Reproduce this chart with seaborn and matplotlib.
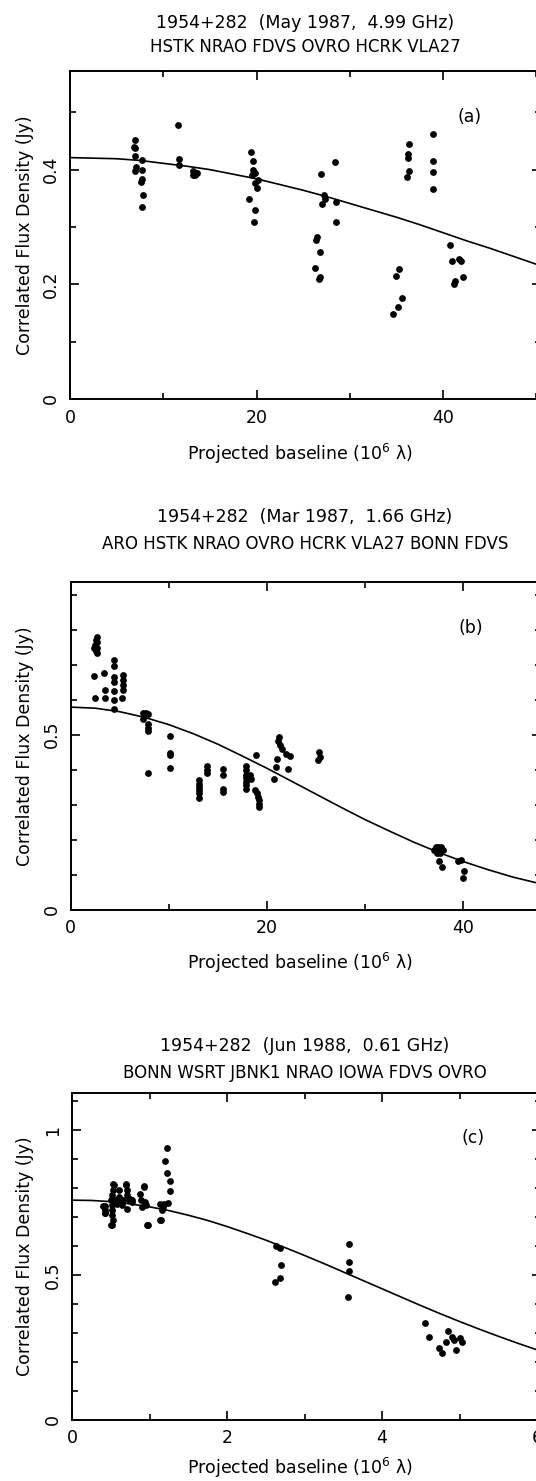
import numpy as np
import pandas as pd
import matplotlib
matplotlib.use("Agg")
import matplotlib.pyplot as plt
import seaborn as sns
from matplotlib.ticker import MultipleLocator, FuncFormatter

# ---------------- Panel (a): 4.99 GHz ----------------
a_x = [6.97, 6.87, 6.94, 7.01, 7.08, 7.01, 7.76, 7.69, 7.73, 7.65, 7.80, 7.73,
       11.62, 11.70, 11.70, 13.23, 13.41, 13.17, 13.60,
       19.39, 19.60, 19.60, 19.85, 19.50, 20.20, 19.85, 20.03, 19.24, 19.85, 19.71,
       26.93, 28.40, 27.18, 27.29, 27.07, 28.54, 28.51, 26.53, 26.39, 26.82, 26.29, 26.82, 26.72,
       36.34, 36.23, 36.19, 36.37, 36.13, 38.92, 38.92, 38.92, 38.92,
       35.27, 34.90, 35.59, 35.12, 34.62,
       40.70, 40.95, 41.66, 41.95, 42.17, 41.31, 41.13]
a_y = [0.451, 0.440, 0.438, 0.423, 0.405, 0.398, 0.417, 0.400, 0.384, 0.379, 0.355, 0.335,
       0.478, 0.419, 0.408, 0.397, 0.391, 0.391, 0.394,
       0.430, 0.415, 0.400, 0.394, 0.391, 0.382, 0.376, 0.368, 0.349, 0.330, 0.309,
       0.392, 0.414, 0.355, 0.349, 0.340, 0.343, 0.309, 0.282, 0.277, 0.256, 0.229, 0.212, 0.209,
       0.445, 0.427, 0.420, 0.398, 0.388, 0.462, 0.415, 0.396, 0.366,
       0.226, 0.215, 0.176, 0.161, 0.148,
       0.269, 0.240, 0.244, 0.241, 0.212, 0.205, 0.200]
a_fit_x = [0, 2.5, 5, 7.5, 10, 12.5, 15, 17.5, 20, 22.5, 25, 27.5, 30, 32.5, 35,
           37.5, 40, 42.5, 45, 47.5, 50, 51]
a_fit_y = [0.421, 0.420, 0.419, 0.416, 0.411, 0.406, 0.400, 0.392, 0.384, 0.374,
           0.364, 0.353, 0.341, 0.329, 0.317, 0.304, 0.290, 0.276, 0.263, 0.249,
           0.235, 0.230]

# ---------------- Panel (b): 1.66 GHz ----------------
b_x = [2.67, 2.60, 2.67, 2.49, 2.42, 2.73, 2.60, 2.73, 2.42, 2.46,
       3.44, 3.51, 3.48,
       4.46, 4.46, 4.46, 4.46, 4.43, 4.43, 4.43,
       5.32, 5.32, 5.32, 5.32, 5.28,
       7.41, 7.69, 7.92, 7.35, 7.86, 7.92, 7.92, 7.92,
       10.10, 10.16, 10.16, 10.16,
       13.05, 13.05, 13.05, 13.05, 13.05, 13.05,
       13.90, 13.90, 13.90,
       15.50, 15.50, 15.50, 15.50,
       17.84, 17.84, 17.84, 17.84, 17.84, 17.84, 17.84, 18.28, 18.35,
       18.86, 18.79, 18.96, 19.13, 19.23, 19.23, 19.23,
       20.76, 20.93, 21.00, 21.23, 21.17, 21.33, 21.50, 21.95, 22.35, 22.15,
       25.34, 25.41, 25.24,
       37.02, 37.22, 37.45, 37.70, 37.90, 37.63, 37.29, 37.45, 37.53, 37.80,
       39.49, 39.77, 40.07, 39.94]
b_y = [0.781, 0.772, 0.765, 0.756, 0.749, 0.749, 0.741, 0.734, 0.668, 0.606,
       0.677, 0.627, 0.606,
       0.713, 0.697, 0.665, 0.651, 0.624, 0.599, 0.573,
       0.670, 0.656, 0.641, 0.627, 0.606,
       0.561, 0.561, 0.559, 0.546, 0.532, 0.518, 0.511, 0.391,
       0.496, 0.448, 0.443, 0.406,
       0.370, 0.360, 0.351, 0.341, 0.332, 0.319,
       0.410, 0.399, 0.391,
       0.403, 0.384, 0.346, 0.336,
       0.411, 0.399, 0.384, 0.375, 0.365, 0.356, 0.346, 0.384, 0.372,
       0.443, 0.341, 0.332, 0.322, 0.313, 0.303, 0.292,
       0.373, 0.408, 0.432, 0.494, 0.481, 0.470, 0.458, 0.444, 0.439, 0.401,
       0.451, 0.437, 0.429,
       0.170, 0.178, 0.179, 0.178, 0.170, 0.162, 0.162, 0.170, 0.139, 0.121,
       0.139, 0.143, 0.110, 0.091]
b_fit_x = [0, 2.5, 5, 7.5, 10, 12.5, 15, 17.5, 20, 22.5, 25, 27.5, 30, 32.5, 35,
           37.5, 40, 42.5, 45, 47.5, 48.5]
b_fit_y = [0.579, 0.576, 0.566, 0.550, 0.529, 0.503, 0.473, 0.439, 0.404, 0.367,
           0.330, 0.293, 0.257, 0.224, 0.192, 0.163, 0.137, 0.114, 0.093, 0.076,
           0.070]

# ---------------- Panel (c): 0.61 GHz ----------------
c_x = [0.42, 0.43, 0.43, 0.53, 0.53, 0.51, 0.50, 0.51, 0.52, 0.51, 0.53, 0.52,
       0.55, 0.58, 0.60, 0.61, 0.62, 0.64, 0.66, 0.70, 0.71, 0.71, 0.73, 0.71,
       0.75, 0.77, 0.78, 0.88, 0.89, 0.90, 0.93, 0.94, 0.96, 0.98,
       1.14, 1.16, 1.14, 1.19, 1.24, 1.18,
       1.22, 1.20, 1.23, 1.26, 1.27,
       0.40, 0.43, 0.50, 0.54, 0.70, 0.93, 0.97, 1.15,
       2.63, 2.68, 2.70, 2.68, 2.62,
       3.57, 3.57, 3.57, 3.56,
       4.56, 4.60, 4.85, 4.83, 4.74, 4.77, 4.90, 4.93, 4.95, 5.01, 5.03]
c_y = [0.737, 0.723, 0.712, 0.815, 0.792, 0.775, 0.758, 0.740, 0.723, 0.706, 0.689, 0.671,
       0.758, 0.746, 0.792, 0.769, 0.752, 0.740, 0.760, 0.813, 0.792, 0.775, 0.758, 0.729,
       0.763, 0.752, 0.760, 0.781, 0.760, 0.734, 0.806, 0.752, 0.740, 0.671,
       0.746, 0.723, 0.691, 0.746, 0.748, 0.734,
       0.939, 0.893, 0.853, 0.824, 0.789,
       0.737, 0.712, 0.671, 0.812, 0.812, 0.803, 0.671, 0.691,
       0.599, 0.594, 0.535, 0.488, 0.476,
       0.606, 0.544, 0.513, 0.422,
       0.333, 0.284, 0.307, 0.267, 0.247, 0.230, 0.285, 0.274, 0.242, 0.282, 0.270]
c_fit_x = [0, 0.25, 0.5, 0.75, 1.0, 1.25, 1.5, 1.75, 2.0, 2.25, 2.5, 2.75, 3.0,
           3.25, 3.5, 3.75, 4.0, 4.25, 4.5, 4.75, 5.0, 5.25, 5.5, 5.75, 6.0, 6.1]
c_fit_y = [0.758, 0.757, 0.753, 0.745, 0.735, 0.722, 0.706, 0.688, 0.667, 0.644,
           0.620, 0.594, 0.567, 0.539, 0.510, 0.481, 0.452, 0.423, 0.394, 0.366,
           0.339, 0.313, 0.288, 0.264, 0.241, 0.233]

titles1 = ["1954+282  (May 1987,  4.99 GHz)",
           "1954+282  (Mar 1987,  1.66 GHz)",
           "1954+282  (Jun 1988,  0.61 GHz)"]
titles2 = ["HSTK NRAO FDVS OVRO HCRK VLA27",
           "ARO HSTK NRAO OVRO HCRK VLA27 BONN FDVS",
           "BONN WSRT JBNK1 NRAO IOWA FDVS OVRO"]
tags = ["(a)", "(b)", "(c)"]
xlabel = "Projected baseline (10$^{6}$ λ)"
ylabel = "Correlated Flux Density (Jy)"

sns.set_theme(style="ticks")
plt.rcParams['font.family'] = ['DejaVu Sans']
plt.rcParams['mathtext.fontset'] = 'dejavusans'
for k in ['text.color', 'axes.labelcolor', 'xtick.color', 'ytick.color', 'axes.edgecolor']:
    plt.rcParams[k] = 'black'

W, H = 536, 1481
fig = plt.figure(figsize=(W / 100, H / 100), dpi=100)
fig.patch.set_facecolor('white')

def px_axes(left, top, right, bottom):
    return fig.add_axes([left / W, 1 - bottom / H, (right - left) / W, (bottom - top) / H])

def fmt(v, pos):
    return "%g" % round(v, 3)

panels = [
    dict(box=(70, 71, 541, 399), xlim=(0, 50.5), ylim=(0, 0.572), xmaj=20, xmin=10,
         ymaj=0.2, ymin=0.1, x=a_x, y=a_y, fx=a_fit_x, fy=a_fit_y,
         t1=23, t2=47, tag=(470, 117), xl=454),
    dict(box=(70.5, 582, 541, 909.5), xlim=(0, 47.9), ylim=(0, 0.937), xmaj=20, xmin=10,
         ymaj=0.5, ymin=0.1, x=b_x, y=b_y, fx=b_fit_x, fy=b_fit_y,
         t1=517, t2=544, tag=(471, 628), xl=963),
    dict(box=(72, 1093, 541, 1419.7), xlim=(0, 6.05), ylim=(0, 1.128), xmaj=2, xmin=1,
         ymaj=0.5, ymin=0.1, x=c_x, y=c_y, fx=c_fit_x, fy=c_fit_y,
         t1=1046, t2=1073, tag=(473, 1138), xl=1468),
]

for i, p in enumerate(panels):
    ax = px_axes(*p['box'])
    df = pd.DataFrame({'x': p['x'], 'y': p['y']})
    fit = pd.DataFrame({'x': p['fx'], 'y': p['fy']})
    sns.lineplot(data=fit, x='x', y='y', ax=ax, color='black', lw=1.2,
                 sort=False, estimator=None)
    sns.scatterplot(data=df, x='x', y='y', ax=ax, color='black', s=24,
                    linewidth=0, legend=False, zorder=3)
    ax.set_xlim(*p['xlim'])
    ax.set_ylim(*p['ylim'])
    ax.xaxis.set_major_locator(MultipleLocator(p['xmaj']))
    ax.xaxis.set_minor_locator(MultipleLocator(p['xmin']))
    ax.yaxis.set_major_locator(MultipleLocator(p['ymaj']))
    ax.yaxis.set_minor_locator(MultipleLocator(p['ymin']))
    ax.xaxis.set_major_formatter(FuncFormatter(fmt))
    ax.yaxis.set_major_formatter(FuncFormatter(fmt))
    ax.set_xlabel('')
    ax.set_ylabel('')
    for s in ax.spines.values():
        s.set_linewidth(1.4)
        s.set_color('black')
    ax.tick_params(which='both', direction='in', top=True, right=True,
                   colors='black', width=1.2, labelsize=12.5)
    ax.tick_params(which='major', length=6.5)
    ax.tick_params(which='minor', length=4)
    ax.tick_params(axis='x', which='major', pad=7)
    ax.tick_params(axis='y', which='major', pad=7)
    for lab in ax.get_yticklabels():
        lab.set_rotation(90)
        lab.set_va('center')
        lab.set_ha('right')
    ax.set_facecolor('white')

    fig.text(305 / W, 1 - p['t1'] / H, titles1[i], ha='center', va='center', fontsize=12.5)
    fig.text(305 / W, 1 - p['t2'] / H, titles2[i], ha='center', va='center', fontsize=12)
    fig.text(p['tag'][0] / W, 1 - p['tag'][1] / H, tags[i], ha='center', va='center', fontsize=12.5)
    fig.text(300 / W, 1 - p['xl'] / H, xlabel, ha='center', va='center', fontsize=12.5)
    ymid = (p['box'][1] + p['box'][3]) / 2
    fig.text(25 / W, 1 - ymid / H, ylabel, ha='center', va='center', rotation=90, fontsize=12.5)

fig.savefig('out.png', dpi=100, facecolor='white')
